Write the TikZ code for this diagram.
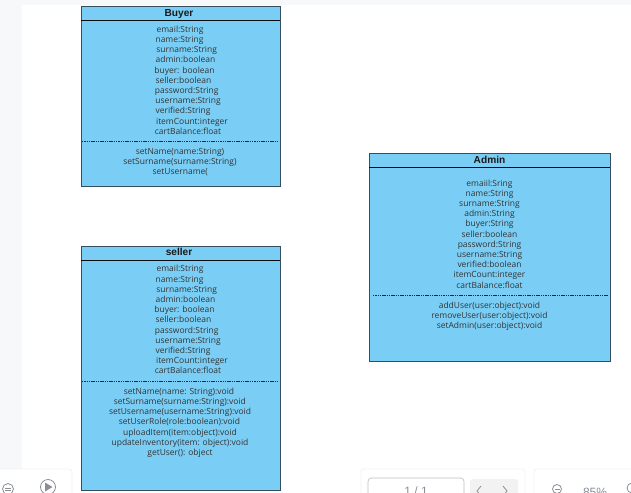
\documentclass[tikz,border=0pt]{standalone}
\usepackage{fontspec}
\setmainfont{Open Sans}
\newfontfamily\titlefont{Liberation Sans}
\definecolor{boxfill}{HTML}{7ACEF5}
\definecolor{boxline}{HTML}{34505F}
\definecolor{pagegray}{HTML}{F7F8FA}
\definecolor{panelline}{HTML}{F0F1F3}
\definecolor{uigray}{HTML}{8A8F96}
\tikzset{
  x=0.75pt,y=-0.75pt,
  classbox/.style={draw=boxline,line width=1pt,fill=boxfill},
  rule/.style={draw=black!85!boxline,line width=0.7pt},
  dashrule/.style={draw=black!85,line width=0.4pt,dash pattern=on 1.1pt off 0.6pt},
  member/.style={inner sep=0pt,anchor=base,font=\fontsize{6.35}{8}\selectfont,text=black!80},
  classtitle/.style={inner sep=0pt,anchor=base,font=\titlefont\bfseries\fontsize{7.6}{9}\selectfont,text=black!90},
  panel/.style={draw=panelline,line width=0.6pt,fill=white,rounded corners=2pt},
  uitext/.style={inner sep=0pt,font=\titlefont\fontsize{9}{11}\selectfont,text=uigray},
  uiline/.style={draw=uigray,line width=0.6pt}
}
\begin{document}
\begin{tikzpicture}
\useasboundingbox (0,0) rectangle (631,492);
\clip (0,0) rectangle (631,492);
% page backdrop
\fill[pagegray] (0,0) rectangle (631,5);
\fill[pagegray] (0,0) rectangle (22,492);
% toolbars
\draw[panel] (-10,469) rectangle (72,500);
\draw[panel] (361,469) rectangle (525,500);
\draw[panel] (534,469) rectangle (640,500);
\draw[draw=black!25,line width=0.5pt,fill=white,rounded corners=2.5pt] (368,478) rectangle (464,500);
\fill[black!5,rounded corners=2pt] (470,479) rectangle (518,500);
\node[uitext] (pageno) at (416,491) {1 / 1};
\node[uitext] (zoomno) at (595,492.5) {85\%};
\draw[uiline] (481,486) -- (477,491) -- (481,496);
\draw[uiline] (503,486) -- (507,491) -- (503,496);
\draw[uiline] (8,489) circle (5.5);
\draw[uiline] (5,488) -- (11,488) (5,490.5) -- (11,490.5);
\draw[uiline] (48,487) circle (7.5);
\fill[uigray] (45,482.5) -- (52.5,487) -- (45,491.5) -- cycle;
\draw[uiline] (557,489) circle (4.5);
\draw[uiline] (554.5,489) -- (559.5,489);
\draw[uiline] (632,488) circle (5);

% Buyer
\node[classbox,minimum width=149.25pt,minimum height=135pt,inner sep=0pt,anchor=north west] (buyer) at (81,6) {};
\draw[rule] (81,20) -- (280,20);
\draw[dashrule] (82,141.5) -- (278.5,141.5);
\node[classtitle] (buyertitle) at (179,16.6) {Buyer};
\foreach \px/\py/\ptext in {
  180/32.8/email:String,179.5/42.8/name:String,186.7/52.8/surname:String,
  185.5/62.8/admin:boolean,184.5/73.8/buyer: boolean,183.5/83.8/seller:boolean,
  186.7/93.8/password:String,188/103.8/username:String,183/113.8/verified:String,
  192/124.8/itemCount:integer,188/134.3/cartBalance:float,
  180/154.3/setName(name:String),180/164.3/setSurname(surname:String),180.3/174.8/setUsername(}
  \node[member] at (\px,\py) {\ptext};

% seller
\node[classbox,minimum width=149.25pt,minimum height=183pt,inner sep=0pt,anchor=north west] (seller) at (81,245.5) {};
\draw[rule] (81,260) -- (280,260);
\draw[dashrule] (82,381) -- (278.5,381);
\node[classtitle] (sellertitle) at (179,255.8) {seller};
\foreach \px/\py/\ptext in {
  180/271.8/email:String,179.5/282.3/name:String,186.7/292.3/surname:String,
  185.5/302.3/admin:boolean,184.5/312.8/buyer: boolean,183.5/322.8/seller:boolean,
  186.7/333.3/password:String,188/343.3/username:String,183/353.3/verified:String,
  192/363.3/itemCount:integer,188/373.3/cartBalance:float,
  179/394.3/setName(name: String):void,179.8/404.3/setSurname(surname:String):void,
  180/414.3/setUsername(username:String):void,179.5/424.3/setUserRole(role:boolean):void,
  180/435.3/uploadItem(item:object):void,180/445.3/updateInventory(item: object):void,
  180/455.3/getUser(): object}
  \node[member] at (\px,\py) {\ptext};

% Admin
\node[classbox,minimum width=180.75pt,minimum height=156pt,inner sep=0pt,anchor=north west] (admin) at (369,153) {};
\draw[rule] (369,167.5) -- (610,167.5);
\draw[dashrule] (373,295.5) -- (607.5,295.5);
\node[classtitle] (admintitle) at (489.5,163.6) {Admin};
\foreach \py/\ptext in {
  186.8/emaiil:Sring,196.8/name:String,206.8/surname:String,216.8/admin:String,
  226.8/buyer:String,237.3/seller:boolean,247.3/password:String,257.3/username:String,
  267.8/verified:boolean,277.8/itemCount:integer,288.3/cartBalance:float,
  308.3/addUser(user:object):void,318.3/removeUser(user:object):void,328.3/setAdmin(user:object):void}
  \node[member] at (489.5,\py) {\ptext};
\end{tikzpicture}
\end{document}
